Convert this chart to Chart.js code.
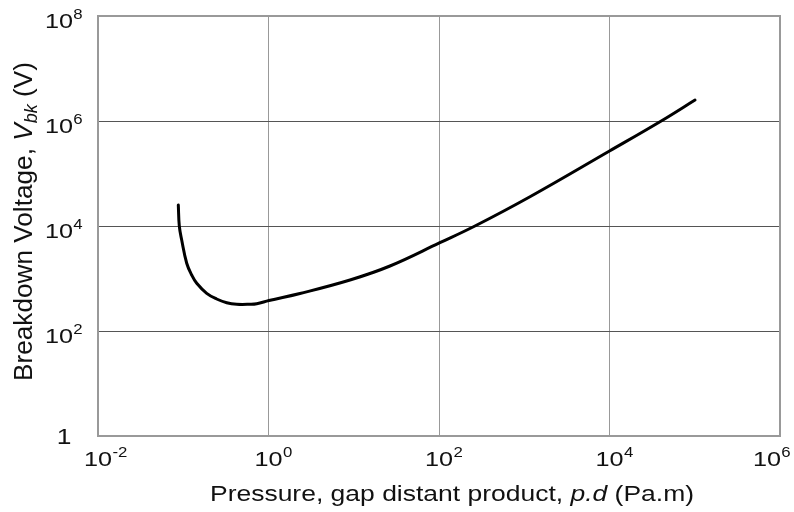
<!DOCTYPE html>
<html><head><meta charset="utf-8">
<script src="https://cdn.jsdelivr.net/npm/chart.js@4"></script>
<style>html,body{margin:0;padding:0;background:#fff}#wrap{width:794px;height:512px}</style>
</head><body><div id="wrap"><canvas id="c" width="794" height="512"></canvas></div>
<script>
// Pressure x gap distance (Pa.m) and breakdown voltage (V)
const pressureDistance = [0.0875, 0.0899, 0.0959, 0.1098, 0.1256, 0.1439, 0.1884, 0.2466, 0.3236, 0.4236, 0.6067, 0.7278, 1.014, 2.34, 9.04, 26.6, 101, 264, 1167, 10000, 40900, 100700];
const breakdownVoltage = [25100, 10000, 5410, 1950, 1166, 810, 522, 407, 346, 323, 323, 331, 381, 518, 936, 1730, 4750, 10000, 36100, 268500, 1014000, 2512000];
const xTickExponents = [-2, 0, 2, 4, 6];
const yTickExponents = [0, 2, 4, 6, 8];
const xTitleParts = [["Pressure, gap distant product, ", false], ["p.d", true], [" (Pa.m)", false]];
const yTitleParts = [["Breakdown Voltage, ", false, false], ["V", true, false], ["bk", true, true], [" (V)", false, false]];

const FAM = '"Liberation Sans", Arial, Helvetica, sans-serif';

function drawPower(ctx, ax, base, exp, mode) {
  ctx.save();
  ctx.translate(ax, base);
  ctx.scale(1.2, 1);
  ctx.textAlign = 'left'; ctx.textBaseline = 'alphabetic';
  if (exp === 0 && mode === 'right') {
    ctx.font = '22px ' + FAM;
    ctx.fillText('1', -13.5, 0);
    ctx.restore();
    return;
  }
  ctx.font = '21px ' + FAM;
  const w = ctx.measureText('10').width;
  const x0 = mode === 'center' ? -w / 2 : -w;
  ctx.fillText('10', x0, 0);
  ctx.font = '14px ' + FAM;
  ctx.fillText(String(exp), x0 + w + 0.3, -9);
  ctx.restore();
}

function drawParts(ctx, parts, size, subSize, targetLen) {
  let total = 0;
  parts.forEach(p => {
    ctx.font = (p[1] ? 'italic ' : '') + (p[2] ? subSize : size) + 'px ' + FAM;
    total += ctx.measureText(p[0]).width;
  });
  const s = targetLen / total;
  ctx.scale(s, 1);
  let x = 0;
  parts.forEach(p => {
    ctx.font = (p[1] ? 'italic ' : '') + (p[2] ? subSize : size) + 'px ' + FAM;
    ctx.fillText(p[0], x, p[2] ? 5 : 0);
    x += ctx.measureText(p[0]).width;
  });
}

const labelPlugin = {
  id: 'labels',
  afterDraw(chart) {
    const ctx = chart.ctx, xs = chart.scales.x, ys = chart.scales.y, a = chart.chartArea;
    ctx.save();
    ctx.strokeStyle = '#999'; ctx.lineWidth = 2;
    ctx.strokeRect(a.left, a.top, a.right - a.left, a.bottom - a.top);
    ctx.fillStyle = '#111';
    xTickExponents.forEach((e, i) => {
      const px = xs.getPixelForValue(Math.pow(10, e));
      if (i === xTickExponents.length - 1) drawPower(ctx, px + 1, a.bottom + 30, e, 'end');
      else drawPower(ctx, px, a.bottom + 30, e, 'center');
    });
    yTickExponents.forEach(e => {
      const py = ys.getPixelForValue(Math.pow(10, e));
      drawPower(ctx, 73, e === 0 ? py + 8 : py + 11.5, e, 'right');
    });
    ctx.save();
    ctx.translate(210, 501);
    ctx.textAlign = 'left'; ctx.textBaseline = 'alphabetic';
    drawParts(ctx, xTitleParts.map(p => [p[0], p[1], false]), 22, 15, 484);
    ctx.restore();
    ctx.save();
    ctx.translate(32, 381);
    ctx.rotate(-Math.PI / 2);
    ctx.textAlign = 'left'; ctx.textBaseline = 'alphabetic';
    drawParts(ctx, yTitleParts, 26, 18, 319);
    ctx.restore();
    ctx.restore();
  }
};

new Chart(document.getElementById('c'), {
  type: 'line',
  data: {
    datasets: [{
      data: pressureDistance.map((x, i) => ({ x: x, y: breakdownVoltage[i] })),
      borderColor: '#000', borderWidth: 3, pointRadius: 0, fill: false,
      tension: 0.4, borderCapStyle: 'round', borderJoinStyle: 'round'
    }]
  },
  options: {
    responsive: false, animation: false, devicePixelRatio: 1,
    layout: { padding: { left: 98, top: 16, right: 14, bottom: 76 } },
    plugins: { legend: { display: false }, tooltip: { enabled: false } },
    scales: {
      x: {
        type: 'logarithmic', min: 0.01, max: 1e6,
        afterBuildTicks: s => { s.ticks = xTickExponents.map(e => ({ value: Math.pow(10, e) })); },
        ticks: { display: false },
        grid: { color: '#999', lineWidth: 1, drawTicks: false },
        border: { display: false }
      },
      y: {
        type: 'logarithmic', min: 1, max: 1e8,
        afterBuildTicks: s => { s.ticks = yTickExponents.map(e => ({ value: Math.pow(10, e) })); },
        ticks: { display: false },
        grid: { color: '#555', lineWidth: 1, drawTicks: false },
        border: { display: false }
      }
    }
  },
  plugins: [labelPlugin]
});
</script></body></html>
